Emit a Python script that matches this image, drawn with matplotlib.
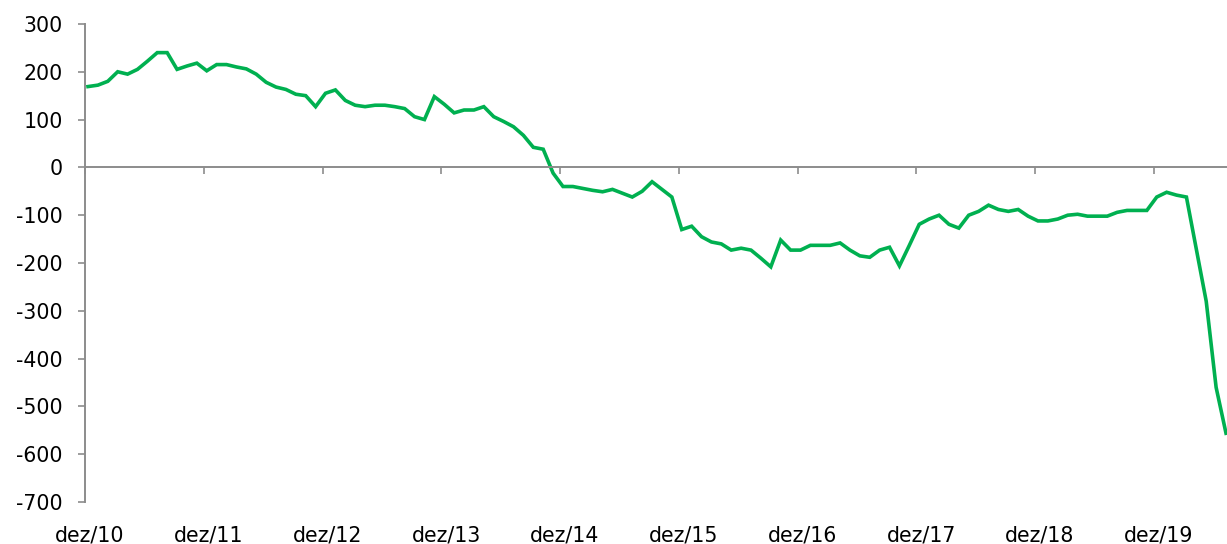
import numpy as np
import matplotlib.pyplot as plt

# monthly values, dez/10 .. jul/20
saldo = [
    169, 172, 180, 200, 195, 205, 222, 240, 240, 205, 212, 218,
    202, 215, 215, 210, 206, 195, 178, 168, 163, 153, 150, 127,
    155, 162, 140, 130, 127, 130, 130, 127, 123, 106, 100, 148,
    132, 114, 120, 120, 127, 106, 96, 85, 67, 42, 38, -12,
    -40, -40, -44, -48, -51, -46, -54, -62, -50, -30, -46, -62,
    -130, -123, -145, -156, -160, -173, -169, -173, -190, -208, -152, -173,
    -173, -163, -163, -163, -158, -173, -185, -188, -173, -167, -206, -163,
    -119, -108, -100, -119, -127, -100, -92, -79, -88, -92, -88, -102,
    -112, -112, -108, -100, -98, -102, -102, -102, -94, -90, -90, -90,
    -62, -52, -58, -62, -171, -280, -460, -556,
]
year_labels = ['dez/10', 'dez/11', 'dez/12', 'dez/13', 'dez/14',
               'dez/15', 'dez/16', 'dez/17', 'dez/18', 'dez/19']
y_ticks = list(range(-700, 301, 100))

plt.rcParams['font.family'] = 'DejaVu Sans'
plt.rcParams['axes.unicode_minus'] = False
axis_gray = '#8c8c8c'

fig = plt.figure(figsize=(12.27, 5.44), dpi=100)
ax = fig.add_axes([0.0693, 0.077, 0.9307, 0.879])

x = np.arange(len(saldo))
ax.plot(x, saldo, color='#00b050', lw=2.6, solid_joinstyle='miter')

ax.set_xlim(-0.3, 115.1)
ax.set_ylim(-700, 300)

for s in ['top', 'right']:
    ax.spines[s].set_visible(False)
ax.spines['bottom'].set_position(('data', 0))
for s in ['bottom', 'left']:
    ax.spines[s].set_color(axis_gray)
    ax.spines[s].set_linewidth(1.4)

ax.set_yticks(y_ticks)
ax.tick_params(axis='y', length=5, width=1.2, color=axis_gray, pad=11,
               labelsize=14.8, labelcolor='black')

# tick marks sit on the zero line, labels are written at the bottom
tick_pos = [12 * k - 0.3 for k in range(len(year_labels))]
ax.set_xticks(tick_pos)
ax.tick_params(axis='x', length=5, width=1.2, color=axis_gray,
               labelbottom=False)

for k, lab in enumerate(year_labels):
    ax.text(12 * k + 0.2, -0.069, lab, transform=ax.get_xaxis_transform(),
            ha='center', va='center', fontsize=14.8, color='black')

fig.savefig('out.png', dpi=100)
